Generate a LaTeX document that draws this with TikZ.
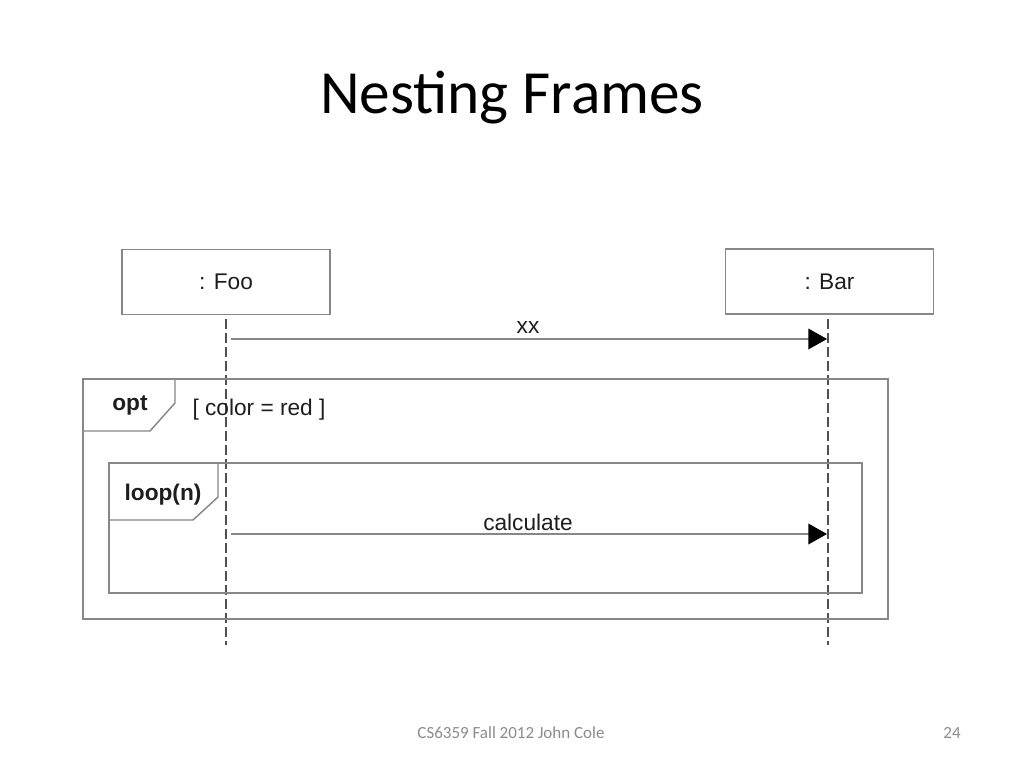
\documentclass[tikz,border=0pt]{standalone}
\usepackage{fontspec}
\setmainfont{Liberation Sans}
\newfontfamily\calib{Carlito}
\usetikzlibrary{arrows.meta}
\definecolor{boxgray}{RGB}{135,135,135}
\definecolor{lifegray}{RGB}{80,80,80}
\definecolor{footgray}{RGB}{140,140,140}
\definecolor{textgray}{RGB}{30,30,30}
\tikzset{
  objbox/.style={draw=boxgray, line width=1.1pt, minimum width=156pt, minimum height=49pt, inner sep=0pt, text=textgray, font=\fontsize{17}{20}\selectfont},
  lifeline/.style={draw=lifegray, line width=1pt, dash pattern=on 7.5pt off 3pt},
  msg/.style={draw=boxgray, line width=1pt, -{Triangle[length=14pt,width=15.5pt,fill=black,color=black]}},
  framebox/.style={draw=boxgray, line width=1.1pt},
  lbl/.style={font=\fontsize{17}{20}\selectfont, text=textgray, inner sep=0pt},
  tag/.style={font=\fontsize{17}{20}\selectfont\bfseries, text=textgray, inner sep=0pt},
}
\begin{document}
\begin{tikzpicture}[x=0.75pt, y=-0.75pt]
\fill[white] (0,0) rectangle (1024,768);
\useasboundingbox (0,0) rectangle (1024,768);
% title
\node[font=\calib\fontsize{46}{50}\selectfont, inner sep=0pt] (title) at (512,98) {Nesting Frames};
% objects
\node[objbox] (foo) at (226,282) {: Foo};
\node[objbox] (bar) at (829.5,281.5) {: Bar};
% lifeline ends
\coordinate (footop) at (226,319);
\coordinate (foobot) at (226,645);
\coordinate (bartop) at (828,319);
\coordinate (barbot) at (828,645);
\draw[lifeline] (footop) -- (foobot);
\draw[lifeline] (bartop) -- (barbot);
% frames
\draw[framebox] (83,379) rectangle (888,619);
\draw[framebox] (83,379) -- (175,379) -- (175,403) -- (150,431) -- (83,431);
\node[tag] (opt) at (130,405) {opt};
\node[lbl] (guard) at (259,410) {[ color = red ]};
\draw[framebox] (109,463) rectangle (862,593);
\draw[framebox] (109,463) -- (218,463) -- (218,497) -- (193,520) -- (109,520);
\node[tag] (loop) at (163,495) {loop(n)};
% messages
\coordinate (xxs) at (231,339);
\coordinate (xxe) at (827,339);
\draw[msg] (xxs) -- (xxe);
\node[lbl] (xxl) at (528,328) {xx};
\coordinate (cs) at (231,534);
\coordinate (ce) at (827,534);
\draw[msg] (cs) -- (ce);
\node[lbl] (cl) at (528,522) {calculate};
% footer
\node[font=\calib\fontsize{12.75}{15}\selectfont, text=footgray, inner sep=0pt] (foot) at (511,733) {CS6359 Fall 2012 John Cole};
\node[font=\calib\fontsize{12.75}{15}\selectfont, text=footgray, inner sep=0pt] (page) at (952,733) {24};
\end{tikzpicture}
\end{document}
